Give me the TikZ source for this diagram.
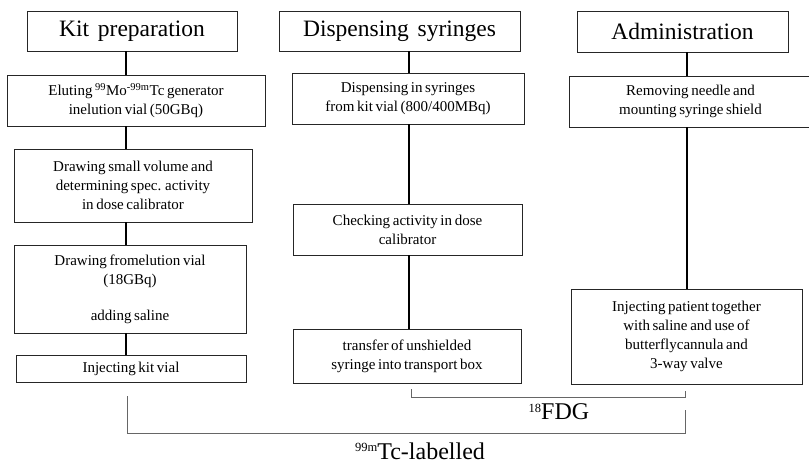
\documentclass[tikz,border=0pt]{standalone}
\usepackage{fontspec}
\setmainfont{Liberation Serif}[WordSpace=0.7]
\newfontfamily\hdfont{Liberation Serif}[WordSpace=1.5]
\newcommand\upsc[1]{\raisebox{7.5pt}{\fontsize{12.5}{12.5}\selectfont #1}}
\begin{document}
\begin{tikzpicture}[x=1pt,y=-1pt,
  box/.style={draw=black!85, line width=0.9pt, align=center, inner sep=2pt,
              font=\fontsize{15}{19}\selectfont},
  head/.style={draw=black!85, line width=0.9pt, inner sep=2pt,
               font=\hdfont\fontsize{23.5}{26}\selectfont},
  conn/.style={line width=2pt, black},
  brk/.style={line width=1pt, black!60},
  lbl/.style={font=\fontsize{24}{26}\selectfont, inner sep=0pt}]
\useasboundingbox (0,0) rectangle (809,463);

% headers
\node[head, minimum width=210, minimum height=40] (h1) at (132,31) {Kit preparation};
\node[head, minimum width=241, minimum height=40] (h2) at (399.5,31) {Dispensing syringes};
\node[head, minimum width=211, minimum height=41] (h3) at (682.5,31.5) {Administration};

% column 1
\node[box, minimum width=258, minimum height=51] (a1) at (136,100.5)
  {Eluting \textsuperscript{99}Mo\textsuperscript{-99m}Tc generator\\inelution vial (50GBq)};
\node[box, minimum width=238, minimum height=73] (a2) at (133,185.5)
  {Drawing small volume and\\determining spec. activity\\in dose calibrator};
\node[box, minimum width=232, minimum height=88] (a3) at (130,289)
  {Drawing fromelution vial\\(18GBq)\\[17pt]adding saline};
\node[box, minimum width=230, minimum height=27] (a4) at (131,368.5)
  {Injecting kit vial};

% column 2
\node[box, minimum width=232, minimum height=51] (b1) at (408,98.5)
  {Dispensing in syringes\\from kit vial (800/400MBq)};
\node[box, minimum width=229, minimum height=51] (b2) at (407.5,229.5)
  {Checking activity in dose\\calibrator};
\node[box, minimum width=228, minimum height=54] (b3) at (407,356)
  {transfer of unshielded\\syringe into transport box};

% column 3
\node[box, minimum width=243, minimum height=51] (c1) at (690.5,101.5)
  {Removing needle and\\mounting syringe shield};
\node[box, minimum width=231, minimum height=95] (c2) at (686.5,336.5)
  {Injecting patient together\\with saline and use of\\butterflycannula and\\3-way valve};

% connector columns
\coordinate (x1) at (126,0);
\coordinate (x2) at (409,0);
\coordinate (x3) at (687,0);

\draw[conn] (h1.south -| x1) -- (a1.north -| x1);
\draw[conn] (a1.south -| x1) -- (a2.north -| x1);
\draw[conn] (a2.south -| x1) -- (a3.north -| x1);
\draw[conn] (a3.south -| x1) -- (a4.north -| x1);

\draw[conn] (h2.south -| x2) -- (b1.north -| x2);
\draw[conn] (b1.south -| x2) -- (b2.north -| x2);
\draw[conn] (b2.south -| x2) -- (b3.north -| x2);

\draw[conn] (h3.south -| x3) -- (c1.north -| x3);
\draw[conn] (c1.south -| x3) -- (c2.north -| x3);

% brackets
\coordinate (fL) at (411,389);
\coordinate (fLb) at (411,397);
\coordinate (fRb) at (685,397);
\coordinate (fR) at (685,391);
\draw[brk] (fL) -- (fLb) -- (fRb) -- (fR);

\coordinate (tL) at (127,396);
\coordinate (tLb) at (127,433);
\coordinate (tRb) at (685,433);
\coordinate (tR) at (685,410);
\draw[brk] (tL) -- (tLb) -- (tRb) -- (tR);

\node[lbl] (fdg) at (559,412) {\upsc{18}FDG};
\node[lbl] (tc) at (420,451) {\upsc{99m}Tc-labelled};
\end{tikzpicture}
\end{document}
